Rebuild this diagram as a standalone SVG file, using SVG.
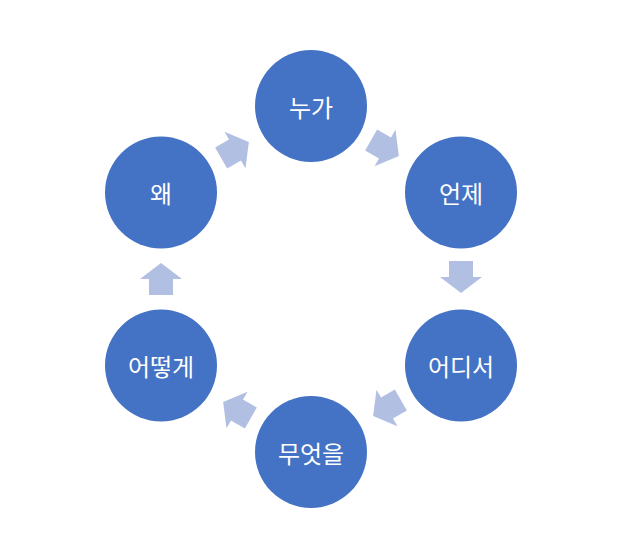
<svg xmlns="http://www.w3.org/2000/svg" width="644" height="541" viewBox="0 0 644 541">
<defs>
<style>
.n{fill:#4472C4;}
.t{fill:#fff;font-family:"Noto Sans CJK KR","Noto Sans",sans-serif;font-size:24px;text-anchor:middle;dominant-baseline:central;}
.a{fill:#B1BFE2;}
</style>
<path id="arr" d="M-16,-12 L0,-12 L0,-21 L16,0 L0,21 L0,12 L-16,12 Z"/>
</defs>
<rect width="644" height="541" fill="#fff"/>
<g id="connectors">
<use href="#arr" class="a" transform="translate(385,148) rotate(30)"/>
<use href="#arr" class="a" transform="translate(461,277) rotate(90)"/>
<use href="#arr" class="a" transform="translate(387,408) rotate(150)"/>
<use href="#arr" class="a" transform="translate(237,410) rotate(210)"/>
<use href="#arr" class="a" transform="translate(161,279) rotate(270)"/>
<use href="#arr" class="a" transform="translate(235,150) rotate(330)"/>
</g>
<g id="n1"><circle class="n" cx="311" cy="106" r="56"/><text class="t" x="311" y="106">누가</text></g>
<g id="n2"><circle class="n" cx="461" cy="192.5" r="56"/><text class="t" x="461" y="192.5">언제</text></g>
<g id="n3"><circle class="n" cx="461" cy="365.5" r="56"/><text class="t" x="461" y="365.5">어디서</text></g>
<g id="n4"><circle class="n" cx="311" cy="452" r="56"/><text class="t" x="311" y="452">무엇을</text></g>
<g id="n5"><circle class="n" cx="161" cy="365.5" r="56"/><text class="t" x="161" y="365.5">어떻게</text></g>
<g id="n6"><circle class="n" cx="161" cy="192.5" r="56"/><text class="t" x="161" y="192.5">왜</text></g>
</svg>
